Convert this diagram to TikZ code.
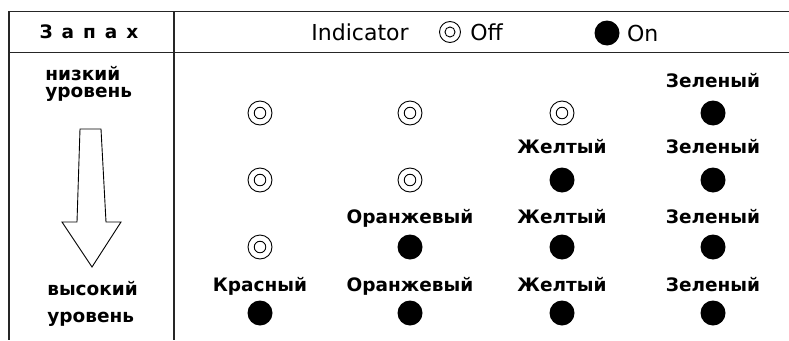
\documentclass[tikz,border=0pt]{standalone}
\usepackage{fontspec}
\setmainfont{DejaVu Sans}
\usetikzlibrary{positioning}

\begin{document}
\begin{tikzpicture}[x=1pt, y=-1pt, semithick]
    \tikzset{
        lamp on/.style={circle, fill, inner sep=0pt, minimum size=#1},
        lamp on/.default=25pt,
        lamp off/.style={circle, draw, line width=0.9pt, inner sep=0pt, minimum size=#1,
            path picture={\draw[line width=0.9pt] (path picture bounding box.center) circle (0.24*#1);}},
        lamp off/.default=24pt,
        colour name/.style={font=\bfseries\fontsize{18.5}{18.5}\selectfont, inner sep=0pt},
        rule/.style={line width=1.4pt, black!85}
    };
    \useasboundingbox (0, 0) rectangle (789, 340);
    % Frame
    \draw[rule] (789, 11.5) -- (9, 11.5) -- (9, 340);
    \draw[rule] (9, 52.5) -- (789, 52.5);
    \draw[rule] (174, 11.5) -- (174, 340);
    % Header
    \node[colour name] (smell) at (89, 32) {З\hspace{9pt}а\hspace{9pt}п\hspace{9pt}а\hspace{9pt}х};
    \node[font=\fontsize{22}{22}\selectfont] (indicator) at (360, 32) {Indicator};
    \node[lamp off=21pt] (offkey) at (450, 32) {};
    \node[font=\fontsize{22}{22}\selectfont, right=9pt of offkey, inner sep=0pt] (offtext) {Off};
    \node[lamp on=25pt] (onkey) at (607, 33) {};
    \node[font=\fontsize{22}{22}\selectfont, right=7pt of onkey, inner sep=0pt] (ontext) {On};
    % Level column
    \node[colour name, anchor=base west] (lowa) at (45, 80) {низкий};
    \node[colour name, anchor=base west] (lowb) at (45, 97) {уровень};
    \node[colour name, anchor=base west] (higha) at (47, 295) {высокий};
    \node[colour name, anchor=base west] (highb) at (47, 322) {уровень};
    \draw[line width=0.9pt] (80, 129) -- (101, 129) -- (106, 222) -- (121, 222)
        -- (92, 267) -- (62, 222) -- (77, 222) -- cycle;
    % Lamps
    \foreach \col/\x/\off/\name in {1/260/3/Красный, 2/410/2/Оранжевый, 3/562/1/Желтый, 4/713/0/Зеленый}{
        \foreach \row/\y/\base in {1/113/87, 2/180/153, 3/247/223, 4/313/291}{
            \ifnum\row>\off
                \node[lamp on] (on-\col-\row) at (\x, \y) {};
                \node[colour name, anchor=base] (name-\col-\row) at (\x, \base) {\name};
            \else
                \node[lamp off] (off-\col-\row) at (\x, \y) {};
            \fi
        }
    }
\end{tikzpicture}
\end{document}
